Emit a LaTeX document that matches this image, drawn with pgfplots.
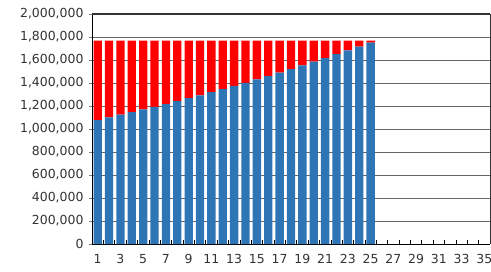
\documentclass[border=0pt]{standalone}
\usepackage{fontspec}
\setmainfont{DejaVu Sans}
\usepackage{pgfplots}
\pgfplotsset{compat=1.18}
\definecolor{barblue}{RGB}{46,117,182}
\begin{document}
\begin{tikzpicture}
\begin{axis}[
  name=ax,
  scale only axis,
  width=398bp, height=230bp,
  ybar stacked,
  bar width=0.73,
  xmin=0.5, xmax=35.5,
  ymin=0, ymax=2000000,
  ytick={0,200000,...,2000000},
  xtick={1,3,...,35},
  minor xtick={0.5,1.5,...,35.5},
  major x tick style={draw=none},
  minor x tick style={draw=black, line width=0.6pt},
  minor tick length=4bp,
  xtick align=inside,
  ytick align=outside,
  major tick length=3bp,
  tick pos=left,
  ymajorgrids,
  grid style={black!60, line width=0.7pt},
  axis line style={black, line width=0.8pt},
  axis x line*=bottom,
  axis y line*=left,
  scaled y ticks=false,
  /pgf/number format/.cd, fixed, 1000 sep={,}, assume math mode=true,
  /pgfplots/.cd,
  tick label style={font=\fontsize{12.5}{14}\selectfont, text=black!80},
  yticklabel style={xshift=-2bp},
  xticklabel style={yshift=-7bp},
]
\addplot[fill=barblue, draw=none] coordinates {
(1,1078000) (2,1101000) (3,1124000) (4,1146000) (5,1170000) (6,1193000) (7,1217000) (8,1242000) (9,1268000) (10,1293000)
(11,1320000) (12,1347000) (13,1374000) (14,1402000) (15,1431000) (16,1460000) (17,1491000) (18,1521000) (19,1553000) (20,1585000)
(21,1617000) (22,1650000) (23,1683000) (24,1716000) (25,1751000)};
\addplot[fill=red, draw=none] coordinates {
(1,690000) (2,667000) (3,644000) (4,622000) (5,598000) (6,575000) (7,551000) (8,526000) (9,500000) (10,475000)
(11,448000) (12,421000) (13,394000) (14,366000) (15,337000) (16,308000) (17,277000) (18,247000) (19,215000) (20,183000)
(21,151000) (22,118000) (23,85000) (24,52000) (25,17000)};
\end{axis}
\draw[black!80, line width=1.4pt] (ax.north west) -- (ax.north east);
\draw[black!80, line width=0.8pt] (ax.north east) -- (ax.south east);
\pgfresetboundingbox
\useasboundingbox ([xshift=-92bp,yshift=-28bp]ax.south west) rectangle ([xshift=1bp,yshift=14bp]ax.north east);
\end{tikzpicture}
\end{document}
